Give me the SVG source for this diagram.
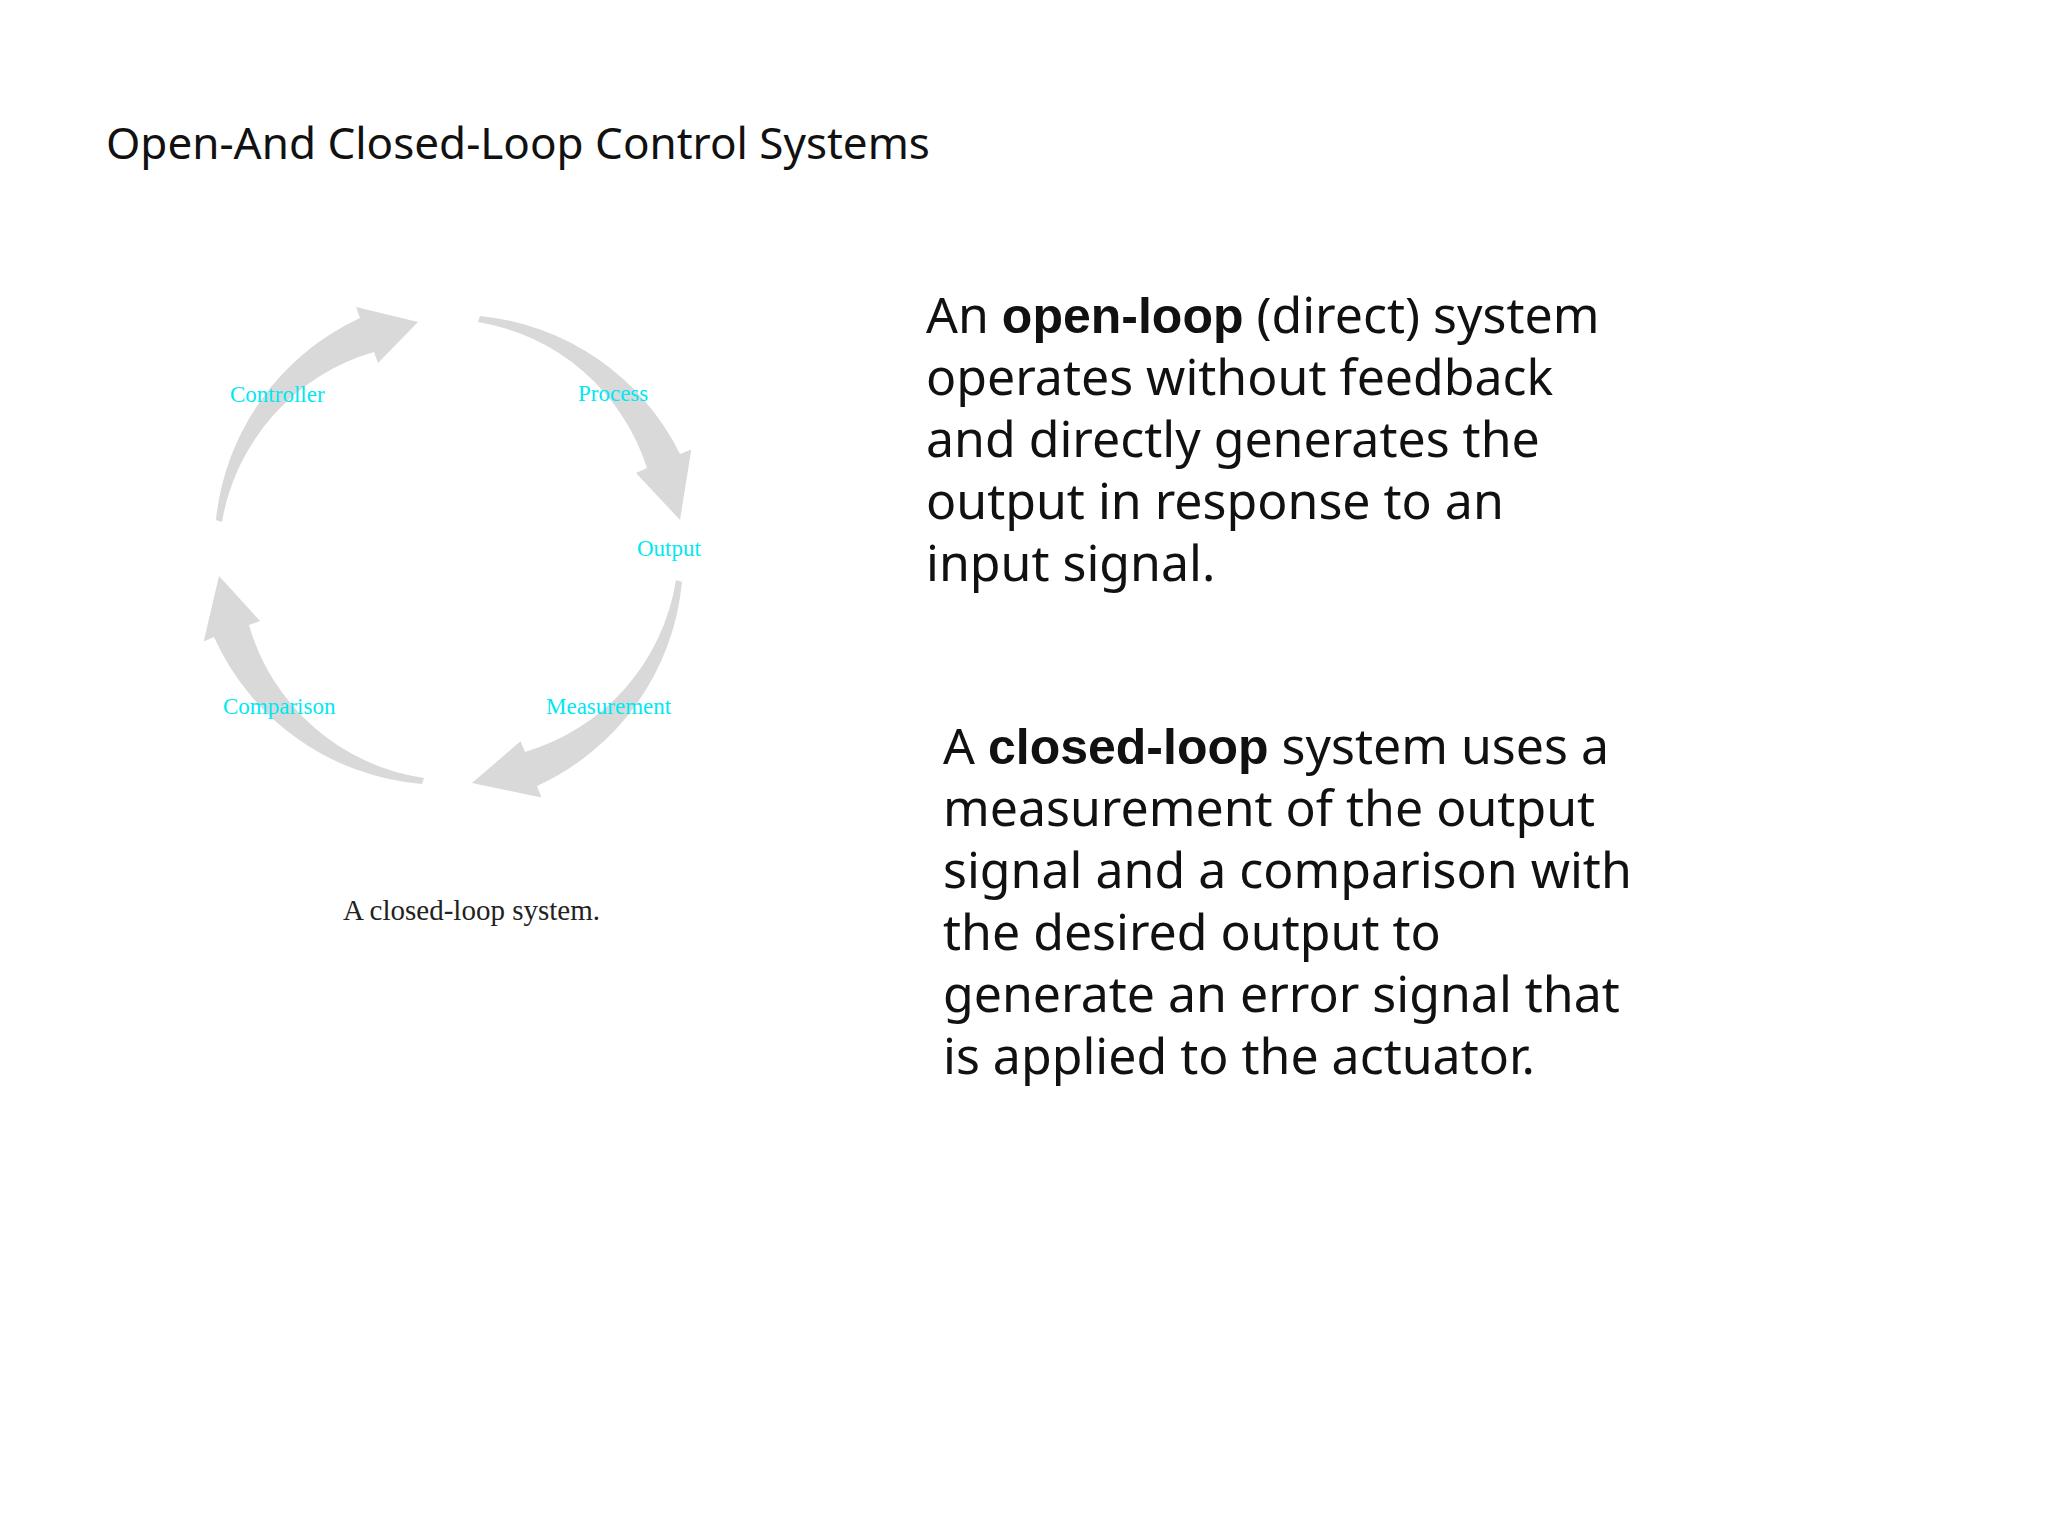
<svg xmlns="http://www.w3.org/2000/svg" width="2048" height="1536" viewBox="0 0 2048 1536">
<style>
.t{font-family:"Noto Sans","Open Sans",sans-serif;fill:#111}
.b{font-family:"Liberation Sans",Arial,sans-serif;font-weight:bold}
.lab{font-family:"Liberation Serif","Times New Roman",serif;font-size:23px;fill:#00e8f0}
.arr{fill:#d9d9d9}
</style>
<rect width="2048" height="1536" fill="#fff"/>
<text class="t" x="106" y="159" font-size="44">Open-And Closed-Loop Control Systems</text>
<g id="connectors">
<path class="arr" d="M222 522 L216 520 A250 250 0 0 1 360 318 L356 307 L418 322 L378 363 L374 352 A214 214 0 0 0 222 522Z"/>
<path class="arr" d="M478 322 L480 316 A250 250 0 0 1 680 454 L691.3 449.6 L680 520 L636 473 L647 468 A214 214 0 0 0 478 322Z"/>
<path class="arr" d="M676 580 L682 582 A250 250 0 0 1 537 786 L541.4 797.5 L472 783 L520.5 741.3 L525 752 A214 214 0 0 0 676 580Z"/>
<path class="arr" d="M424 778 L422 784 A250 250 0 0 1 214 637 L203.7 641.6 L219 576 L260.1 621.1 L249 625 A214 214 0 0 0 424 778Z"/>
</g>
<g id="controller"><text class="lab" x="230" y="402">Controller</text></g>
<g id="process"><text class="lab" x="578" y="401">Process</text></g>
<g id="output"><text class="lab" x="637" y="556">Output</text></g>
<g id="measurement"><text class="lab" x="546" y="714">Measurement</text></g>
<g id="comparison"><text class="lab" x="223" y="714">Comparison</text></g>
<text x="343" y="920" font-family="Liberation Serif,'Times New Roman',serif" font-size="29" fill="#222">A closed-loop system.</text>
<g id="open-text" class="t" font-size="50">
<text x="926" y="333">An <tspan class="b">open-loop</tspan> (direct) system</text>
<text x="926" y="395">operates without feedback</text>
<text x="926" y="457">and directly generates the</text>
<text x="926" y="519">output in response to an</text>
<text x="926" y="581">input signal.</text>
</g>
<g id="closed-text" class="t" font-size="50">
<text x="943" y="764">A <tspan class="b">closed-loop</tspan> system uses a</text>
<text x="943" y="826">measurement of the output</text>
<text x="943" y="888">signal and a comparison with</text>
<text x="943" y="950">the desired output to</text>
<text x="943" y="1012">generate an error signal that</text>
<text x="943" y="1074">is applied to the actuator.</text>
</g>
</svg>
